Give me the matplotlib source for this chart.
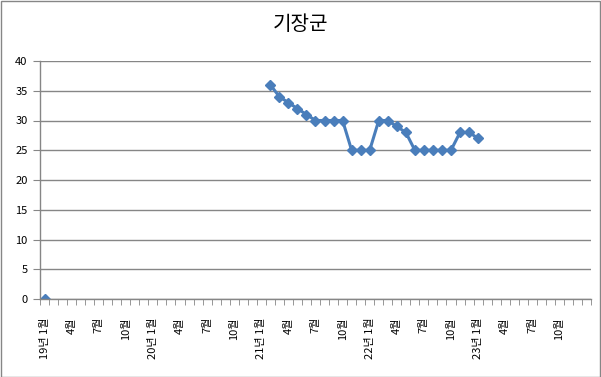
import matplotlib
matplotlib.use("Agg")
import matplotlib.pyplot as plt
from matplotlib.patches import Rectangle
import numpy as np

plt.rcParams['font.family'] = ['Noto Sans CJK KR', 'DejaVu Sans']

title = "기장군"
n_months = 61  # 19년 1월 .. 24년 1월
tick_labels = ["19년 1월", "4월", "7월", "10월",
               "20년 1월", "4월", "7월", "10월",
               "21년 1월", "4월", "7월", "10월",
               "22년 1월", "4월", "7월", "10월",
               "23년 1월", "4월", "7월", "10월", ""]
first_point = [0]            # 19년 1월
series_start = 25            # 21년 2월
series_values = [36, 34, 33, 32, 31, 30, 30, 30, 30, 25, 25, 25,
                 30, 30, 29, 28, 25, 25, 25, 25, 25, 28, 28, 27]

values = [np.nan] * n_months
values[0] = first_point[0]
for i, v in enumerate(series_values):
    values[series_start + i] = v

W, H = 601, 377
fig = plt.figure(figsize=(W / 100, H / 100), dpi=100)
fig.patch.set_facecolor('white')
fig.add_artist(Rectangle((0.5 / W, 0.5 / H), 1 - 1.5 / W, 1 - 1.5 / H,
                         transform=fig.transFigure, fill=False,
                         edgecolor='#868686', linewidth=1))

ax = fig.add_axes([40 / W, 1 - 299 / H, (591 - 40) / W, (299 - 61) / H])
x = np.arange(n_months)
ax.plot(x, values, color='#4A7EBB', linewidth=2.2, marker='D',
        markersize=5, markerfacecolor='#4A7EBB', markeredgecolor='#4A7EBB')

ax.set_xlim(-0.5, n_months - 0.5)
ax.set_ylim(0, 40)
ax.set_yticks(np.arange(0, 41, 5))
ax.yaxis.grid(True, color='#868686', linewidth=1)
ax.set_axisbelow(True)

ax.set_xticks(np.arange(0, n_months, 3))
ax.set_xticklabels(tick_labels, rotation=90, fontsize=8, va='top', ha='center')
ax.set_xticks(np.arange(-0.5, n_months, 1), minor=True)
ax.tick_params(axis='x', which='major', length=0, pad=13)
ax.tick_params(axis='x', which='minor', length=4, color='#868686', direction='out')
ax.tick_params(axis='y', length=5, color='#868686', labelsize=8, pad=4)

for s in ['top', 'right']:
    ax.spines[s].set_visible(False)
for s in ['left', 'bottom']:
    ax.spines[s].set_color('#868686')
    ax.spines[s].set_linewidth(1)

fig.text(0.5, 1 - 25 / H, title, ha='center', va='center', fontsize=14.5)

fig.savefig('out.png', dpi=100)
